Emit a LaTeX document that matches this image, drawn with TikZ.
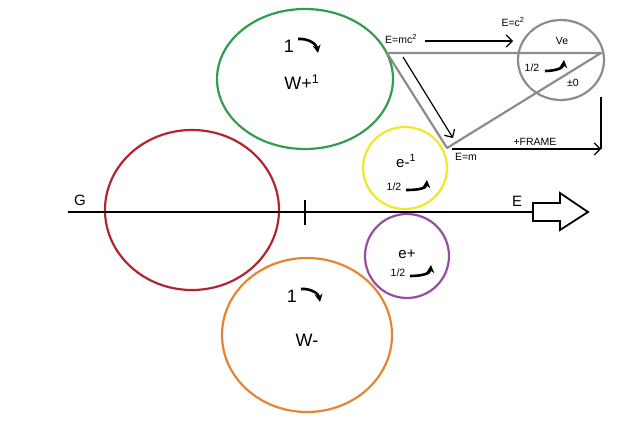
\documentclass[tikz,border=0pt]{standalone}
\usepackage{fontspec}
\setmainfont{Liberation Sans}
\usetikzlibrary{arrows.meta}
\usetikzlibrary{shapes.geometric}

\definecolor{wgreen}{RGB}{48,158,76}
\definecolor{gred}{RGB}{178,36,48}
\definecolor{eyellow}{RGB}{242,230,40}
\definecolor{epurple}{RGB}{150,78,164}
\definecolor{worange}{RGB}{230,132,52}
\definecolor{vgray}{RGB}{140,140,140}

\begin{document}
\begin{tikzpicture}[x=1pt,y=-1pt,
  ring/.style={draw, ellipse, line width=2.2pt, inner sep=0pt},
  turn/.style={-{Stealth[length=8pt,width=8pt]}, line width=2.6pt},
  big/.style={font=\fontsize{18}{20}\selectfont},
  mid/.style={font=\fontsize{15}{17}\selectfont},
  small/.style={font=\fontsize{10.5}{12}\selectfont}]
\useasboundingbox (0,0) rectangle (624,422);

% circles
\node[ring, wgreen, minimum width=176, minimum height=140] (wplus) at (305,79) {};
\node[ring, gred, minimum width=174, minimum height=160] (g) at (192,210) {};
\node[ring, worange, minimum width=170, minimum height=154] (wminus) at (307,335) {};
\node[ring, eyellow, minimum width=84, minimum height=82] (eminus) at (405,168) {};
\node[ring, epurple, minimum width=84, minimum height=84] (eplus) at (407,256) {};
\node[ring, vgray, minimum width=86, minimum height=80] (ve) at (561,60) {};

% triangle
\coordinate (tl) at (387,53);
\coordinate (tb) at (447,148);
\coordinate (tr) at (601,53);
\draw[vgray, line width=2.2pt, line join=round] (tl) -- (tr) -- (tb) -- cycle;

% axis
\coordinate (ax0) at (68,212);
\coordinate (ax1) at (533,212);
\draw[line width=2.2pt] (ax0) -- (ax1); % G - E axis
\coordinate (tk0) at (305,200);
\coordinate (tk1) at (305,225);
\draw[line width=2.2pt] (tk0) -- (tk1);
\draw[line width=1.8pt, line join=miter, fill=white] (533,203) -- (560,203) -- (560,193) -- (588,212) -- (560,230) -- (560,221) -- (533,221) -- cycle; % hollow arrow
\node[mid] (gl) at (80,200) {G};
\node[mid] (el) at (517,201) {E};

% W+
\node[big] (wpone) at (289,46) {1};
\draw[turn] (298,39) to[out=5,in=100] (318,53);
\node[big] (wplbl) at (302,82) {W+\textsuperscript{1}};

% W-
\node[big] (wmone) at (292,296) {1};
\draw[turn] (301,289) to[out=5,in=100] (320,302);
\node[big] (wmlbl) at (307,340) {W-};

% e-
\node[mid] (emlbl) at (406,161) {e-\textsuperscript{1}};
\node[small] (emhalf) at (394,187) {1/2};
\draw[turn] (406,190) to[out=0,in=-95] (427,180);

% e+
\node[mid] (eplbl) at (407,254) {e+};
\node[small] (ephalf) at (398,273) {1/2};
\draw[turn] (410,276) to[out=0,in=-95] (431,265);

% Ve
\node[small] (velbl) at (562,41) {Ve};
\node[small] (vehalf) at (532,68) {1/2};
\draw[turn] (545,71) to[out=0,in=-95] (564,60);
\node[small] (vezero) at (573,83) {±0};

% energy labels
\node[small] (emc) at (401,39) {E=mc\textsuperscript{2}};
\node[small] (ec) at (513,22) {E=c\textsuperscript{2}};
\node[small] (em) at (466,157) {E=m};
\node[small] (frame) at (535,142) {+FRAME};
\coordinate (a0) at (425,41);
\coordinate (a1) at (513,41);
\draw[-{Straight Barb[length=6pt]}, line width=1.2pt] (a0) -- (a1);
\coordinate (d0) at (403,57);
\coordinate (d1) at (453,138);
\draw[-{Straight Barb[length=6pt]}, line width=1.2pt] (d0) -- (d1);
\coordinate (f0) at (452,149);
\coordinate (f1) at (601,149);
\coordinate (f2) at (601,97);
\draw[line width=1.2pt] (f2) -- (f1);
\draw[-{Straight Barb[length=6pt]}, line width=1.2pt] (f0) -- (f1);
\end{tikzpicture}
\end{document}
